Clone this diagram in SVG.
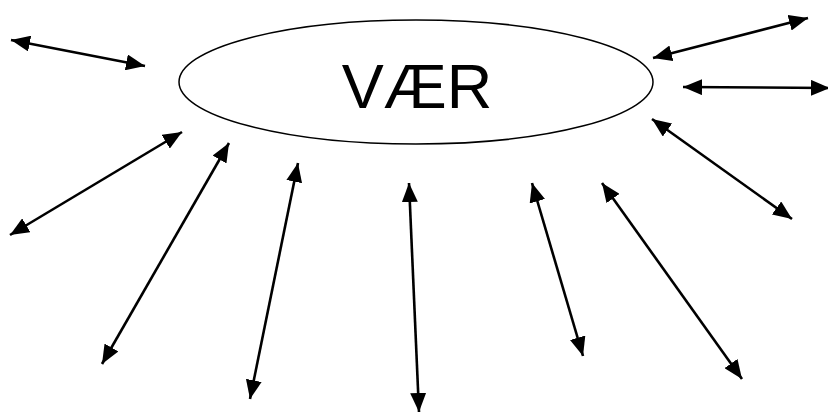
<svg xmlns="http://www.w3.org/2000/svg" width="828" height="414" viewBox="0 0 828 414">
<style>
.conn line{stroke:#000;stroke-width:2.6;fill:none;marker-start:url(#ah);marker-end:url(#ah)}
.node ellipse{fill:#fff;stroke:#000;stroke-width:1.5}
.node text{font-family:"Liberation Sans",Arial,sans-serif;font-size:63px;fill:#000}
</style>
<defs>
<marker id="ah" markerUnits="userSpaceOnUse" markerWidth="20" markerHeight="16" refX="19" refY="8" orient="auto-start-reverse" viewBox="0 0 20 16">
<path d="M0,0 L19,8 L0,16 z" fill="#000"/>
</marker>
</defs>
<g id="node-vaer" class="node">
<ellipse cx="416" cy="82" rx="237" ry="62"/>
<text x="417" y="108" text-anchor="middle">VÆR</text>
</g>
<g id="connectors" class="conn">
<line x1="11" y1="40" x2="145" y2="66"/>
<line x1="653" y1="58" x2="808" y2="18"/>
<line x1="683" y1="87" x2="830" y2="88"/>
<line x1="10" y1="235" x2="182" y2="132"/>
<line x1="229" y1="143" x2="102" y2="364"/>
<line x1="298" y1="163" x2="250" y2="399"/>
<line x1="409" y1="183" x2="419" y2="412"/>
<line x1="532" y1="183" x2="583" y2="356"/>
<line x1="602" y1="183" x2="742" y2="379"/>
<line x1="652" y1="119" x2="792" y2="219"/>
</g>
</svg>
